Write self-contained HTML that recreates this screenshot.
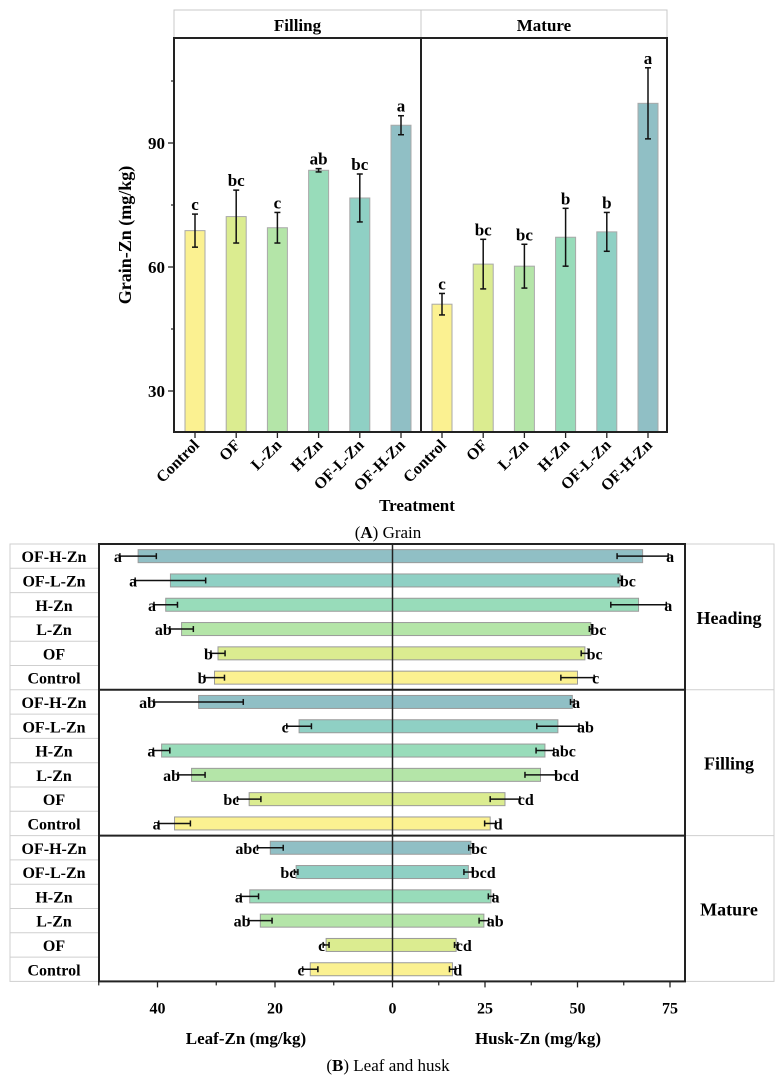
<!DOCTYPE html>
<html><head><meta charset="utf-8"><style>
html,body{margin:0;padding:0;background:#fff;}
svg{display:block;font-family:"Liberation Serif",serif;}
.b{font-weight:bold;}
</style></head><body>
<svg id="s" width="777" height="1084" viewBox="0 0 777 1084" xmlns="http://www.w3.org/2000/svg">
<text x="388" y="538" text-anchor="middle" font-size="17">(<tspan font-weight="bold">A</tspan>) Grain</text>
<text x="388" y="1071" text-anchor="middle" font-size="17">(<tspan font-weight="bold">B</tspan>) Leaf and husk</text>
</svg>
<script>
const treatments=["Control","OF","L-Zn","H-Zn","OF-L-Zn","OF-H-Zn"];
const colors=["#fbf191","#dbec90","#b4e5a8","#98dcba","#8fd0c4","#90bfc5"];
const grainStages=["Filling","Mature"];
const grainFilling=[68.8,72.2,69.5,83.4,76.7,94.3];
const grainFillingErr=[4,6.4,3.7,0.4,5.8,2.3];
const grainFillingLetters=["c","bc","c","ab","bc","a"];
const grainMature=[51.0,60.7,60.2,67.2,68.5,99.6];
const grainMatureErr=[2.6,6,5.3,7,4.7,8.6];
const grainMatureLetters=["c","bc","bc","b","b","a"];
const grainTicks=[30,60,90];
const grainMinor=[45,75,105];
const lhStages=["Heading","Filling","Mature"];
const rowOrder=[5,4,3,2,1,0];
const leafHeading=[30.3,29.7,35.9,38.6,37.8,43.3];
const leafHeadingErr=[1.7,1.2,2,2,6,3.1];
const leafHeadingLetters=["b","b","ab","a","a","a"];
const huskHeading=[50.0,52.0,53.6,66.5,61.5,67.6];
const huskHeadingErr=[4.5,1,0.4,7.5,0.5,6.9];
const huskHeadingLetters=["c","bc","bc","a","bc","a"];
const leafFilling=[37.1,24.4,34.2,39.3,15.9,33.0];
const leafFillingErr=[2.7,2,2.3,1.4,2.1,7.6];
const leafFillingLetters=["a","bc","ab","a","c","ab"];
const huskFilling=[26.4,30.4,40.0,41.2,44.7,48.6];
const huskFillingErr=[1.5,4,4.2,2.4,5.7,0.5];
const huskFillingLetters=["d","cd","bcd","abc","ab","a"];
const leafMature=[14.0,11.3,22.5,24.3,16.4,20.8];
const leafMatureErr=[1.3,0.5,2,1.5,0.3,2.2];
const leafMatureLetters=["c","c","ab","a","bc","abc"];
const huskMature=[16.2,17.2,24.7,26.6,20.5,21.2];
const huskMatureErr=[0.8,0.45,1.3,0.7,1.2,0.6];
const huskMatureLetters=["d","cd","ab","a","bcd","bc"];
const leafTicks=[0,20,40];
const leafMinor=[10,30,50];
const huskTicks=[25,50,75];
const huskMinor=[12.5,37.5,62.5];

const S=document.getElementById('s');
const NS="http://www.w3.org/2000/svg";
function mk(tag,at,txt){const e=document.createElementNS(NS,tag);for(const k in at)e.setAttribute(k,at[k]);if(txt!==undefined)e.textContent=txt;S.appendChild(e);return e;}

// ---------- Chart A ----------
const AL=174,AR=667,AD=421,AT=38,AB=432;
const yA=v=>267-(v-60)*124/30;
const xA=(p,i)=>(p===0?AL:AD)+21+i*41.2;
let e;
e=mk('rect',{x:AL,y:10,width:AR-AL,height:AT-10,fill:'#fff',stroke:'#c8c8c8'});

mk('line',{x1:AD,y1:10,x2:AD,y2:AT,stroke:'#c8c8c8'});
grainStages.forEach((s,p)=>{e=mk('text',{x:(p===0?(AL+AD)/2:(AD+AR)/2),y:31,'text-anchor':'middle','font-size':17,class:'b'},s);
});
[[grainFilling,grainFillingErr,grainFillingLetters],[grainMature,grainMatureErr,grainMatureLetters]].forEach((d,p)=>{
 d[0].forEach((v,i)=>{const cx=xA(p,i);
  e=mk('rect',{x:cx-10,y:yA(v),width:20,height:AB-yA(v),fill:colors[i],stroke:'#a9a9a9','stroke-width':1});
  
  const t=yA(v+d[1][i]),b=yA(v-d[1][i]);
  mk('line',{x1:cx,y1:t,x2:cx,y2:b,stroke:'#111','stroke-width':1.5});
  mk('line',{x1:cx-3,y1:t,x2:cx+3,y2:t,stroke:'#111','stroke-width':1.5});
  mk('line',{x1:cx-3,y1:b,x2:cx+3,y2:b,stroke:'#111','stroke-width':1.5});
  e=mk('text',{x:cx,y:t-4,'text-anchor':'middle','font-size':17,class:'b'},d[2][i]);
  
  mk('line',{x1:cx,y1:AB,x2:cx,y2:AB+6,stroke:'#222','stroke-width':1.3});
  e=mk('text',{x:cx+5,y:AB+14,'text-anchor':'end','font-size':16,class:'b',transform:`rotate(-45 ${cx+5} ${AB+14})`},treatments[i]);
  
 });
});
e=mk('rect',{x:AL,y:AT,width:AR-AL,height:AB-AT,fill:'none',stroke:'#222','stroke-width':2});

mk('line',{x1:AD,y1:AT,x2:AD,y2:AB,stroke:'#222','stroke-width':2});
grainTicks.forEach(v=>{mk('line',{x1:AL-6,y1:yA(v),x2:AL,y2:yA(v),stroke:'#222','stroke-width':1.3});
 e=mk('text',{x:AL-9,y:yA(v)+6,'text-anchor':'end','font-size':17,class:'b'},v);
 });
grainMinor.forEach(v=>mk('line',{x1:AL-3,y1:yA(v),x2:AL,y2:yA(v),stroke:'#222','stroke-width':1.2}));
e=mk('text',{x:131,y:235,'text-anchor':'middle','font-size':18,class:'b',transform:'rotate(-90 131 235)'},'Grain-Zn (mg/kg)');

e=mk('text',{x:417,y:511,'text-anchor':'middle','font-size':17,class:'b'},'Treatment');


// ---------- Chart B ----------
const BL=99,BR=685,BC=392.5,BT=544,RH=24.3;
const xLeaf=v=>BC-v*5.875, xHusk=v=>BC+v*3.7;
const blocks=[[leafHeading,leafHeadingErr,leafHeadingLetters,huskHeading,huskHeadingErr,huskHeadingLetters],
 [leafFilling,leafFillingErr,leafFillingLetters,huskFilling,huskFillingErr,huskFillingLetters],
 [leafMature,leafMatureErr,leafMatureLetters,huskMature,huskMatureErr,huskMatureLetters]];
const BB=BT+18*RH;
e=mk('rect',{x:10,y:BT,width:764,height:BB-BT,fill:'#fff',stroke:'#cfcfcf'});

blocks.forEach((d,p)=>{
 const y0=BT+p*6*RH;
 mk('line',{x1:BR,y1:y0,x2:774,y2:y0,stroke:'#cfcfcf'});
 e=mk('text',{x:729,y:y0+3*RH+7,'text-anchor':'middle','font-size':18,class:'b'},lhStages[p]);
 
 rowOrder.forEach((i,r)=>{
  const cy=y0+r*RH+RH/2;
  mk('line',{x1:10,y1:y0+r*RH,x2:BL,y2:y0+r*RH,stroke:'#cfcfcf'});
  e=mk('text',{x:54,y:cy+6,'text-anchor':'middle','font-size':16,class:'b'},treatments[i]);
  
  const lv=d[0][i],hv=d[3][i];
  e=mk('rect',{x:xLeaf(lv),y:cy-6.5,width:BC-xLeaf(lv),height:13,fill:colors[i],stroke:'#9a9a9a'});
  
  e=mk('rect',{x:BC,y:cy-6.5,width:xHusk(hv)-BC,height:13,fill:colors[i],stroke:'#9a9a9a'});
  
  const l1=xLeaf(lv+d[1][i]),l2=xLeaf(lv-d[1][i]);
  mk('line',{x1:l1,y1:cy,x2:l2,y2:cy,stroke:'#111','stroke-width':1.5});
  mk('line',{x1:l1,y1:cy-3,x2:l1,y2:cy+3,stroke:'#111','stroke-width':1.5});
  mk('line',{x1:l2,y1:cy-3,x2:l2,y2:cy+3,stroke:'#111','stroke-width':1.5});
  e=mk('text',{x:l1+2,y:cy+6,'text-anchor':'end','font-size':16,class:'b'},d[2][i]);
  
  const h1=xHusk(hv-d[4][i]),h2=xHusk(hv+d[4][i]);
  mk('line',{x1:h1,y1:cy,x2:h2,y2:cy,stroke:'#111','stroke-width':1.5});
  mk('line',{x1:h1,y1:cy-3,x2:h1,y2:cy+3,stroke:'#111','stroke-width':1.5});
  mk('line',{x1:h2,y1:cy-3,x2:h2,y2:cy+3,stroke:'#111','stroke-width':1.5});
  e=mk('text',{x:h2-2,y:cy+6,'text-anchor':'start','font-size':16,class:'b'},d[5][i]);
  
 });
 if(p>0)mk('line',{x1:BL,y1:y0,x2:BR,y2:y0,stroke:'#222','stroke-width':2});
});
e=mk('rect',{x:BL,y:BT,width:BR-BL,height:BB-BT,fill:'none',stroke:'#222','stroke-width':2});

mk('line',{x1:BC,y1:BT,x2:BC,y2:BB,stroke:'#222','stroke-width':1.5});
leafTicks.forEach(v=>{mk('line',{x1:xLeaf(v),y1:BB,x2:xLeaf(v),y2:BB+6,stroke:'#222','stroke-width':1.3});
 e=mk('text',{x:xLeaf(v),y:BB+32,'text-anchor':'middle','font-size':16,class:'b'},v);
 });
leafMinor.forEach(v=>mk('line',{x1:xLeaf(v),y1:BB,x2:xLeaf(v),y2:BB+4,stroke:'#222','stroke-width':1.2}));
huskTicks.forEach(v=>{mk('line',{x1:xHusk(v),y1:BB,x2:xHusk(v),y2:BB+6,stroke:'#222','stroke-width':1.3});
 e=mk('text',{x:xHusk(v),y:BB+32,'text-anchor':'middle','font-size':16,class:'b'},v);
 });
huskMinor.forEach(v=>mk('line',{x1:xHusk(v),y1:BB,x2:xHusk(v),y2:BB+4,stroke:'#222','stroke-width':1.2}));
e=mk('text',{x:246,y:1044,'text-anchor':'middle','font-size':17,class:'b'},'Leaf-Zn (mg/kg)');

e=mk('text',{x:538,y:1044,'text-anchor':'middle','font-size':17,class:'b'},'Husk-Zn (mg/kg)');

</script>
</body></html>
